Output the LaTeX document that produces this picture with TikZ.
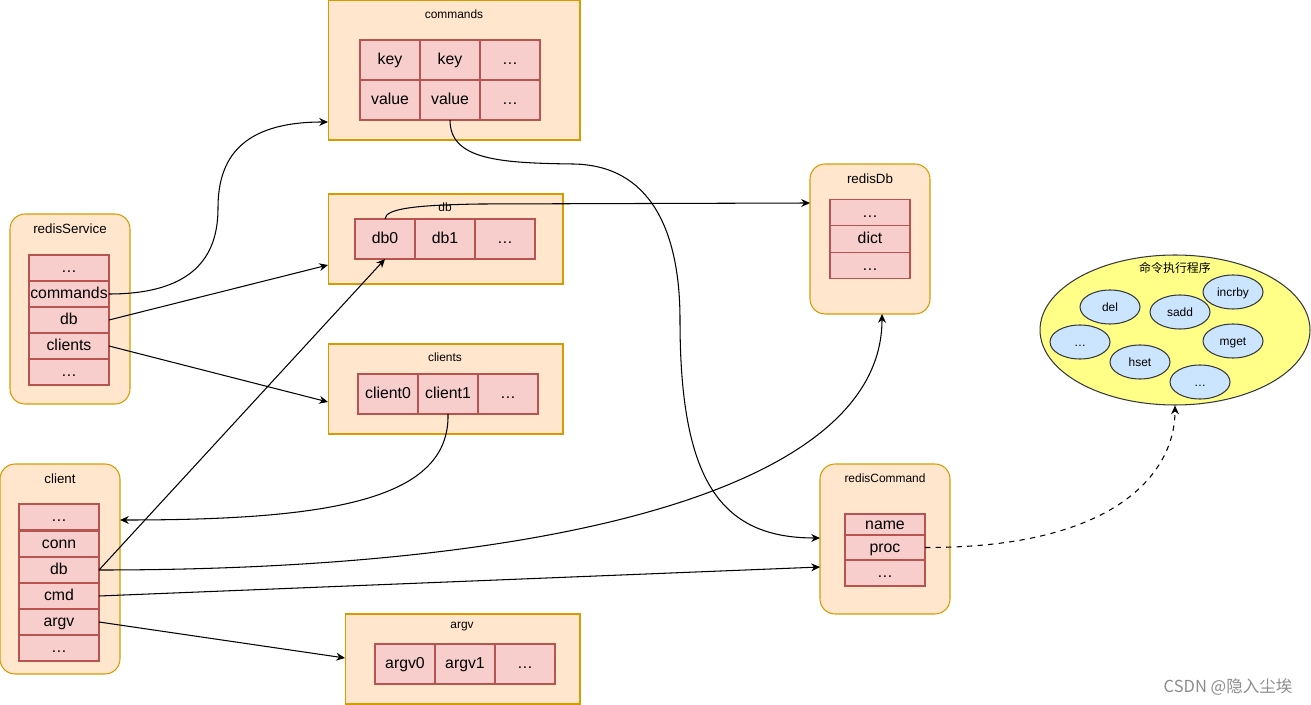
\documentclass[tikz,border=0pt]{standalone}
\usepackage{fontspec}
\setmainfont{Liberation Sans}
\newfontfamily\cjk{Noto Sans CJK SC}
\usetikzlibrary{arrows.meta,shapes.geometric}
\definecolor{boxfill}{HTML}{FFE6CC}
\definecolor{boxline}{HTML}{D79B00}
\definecolor{cellfill}{HTML}{F8CECC}
\definecolor{cellline}{HTML}{B85450}
\definecolor{progfill}{HTML}{FFFF88}
\definecolor{opfill}{HTML}{CCE5FF}
\definecolor{opline}{HTML}{36393D}
\begin{document}
\begin{tikzpicture}[x=0.02cm,y=-0.02cm,line width=0.6pt,
    box/.style={draw=boxline,fill=boxfill,outer sep=0pt},
    rbox/.style={box,rounded corners=0.3cm},
    cell/.style={draw=cellline,fill=cellfill,outer sep=0pt,inner sep=0pt,
                 text height=0.72em,text depth=0.2em,
                 minimum width=1.2cm,minimum height=0.8cm,font=\fontsize{9}{10}\selectfont},
    row/.style={cell,minimum width=1.6cm,minimum height=0.52cm},
    title/.style={font=\fontsize{6.8}{8}\selectfont},
    bigtitle/.style={font=\fontsize{7.6}{9}\selectfont},
    op/.style={ellipse,draw=opline,fill=opfill,inner sep=0pt,
               text height=0.72em,text depth=0.2em,
               minimum width=1.2cm,minimum height=0.68cm,font=\fontsize{6.8}{8}\selectfont},
    arr/.style={-{Stealth[length=5pt,width=4.5pt]}}
  ]
  \useasboundingbox (0,0) rectangle (1311,705);

  % commands
  \node[box,minimum width=5.04cm,minimum height=2.8cm] (commandsbox) at (454,70) {};
  \node[title] (commandstitle) at (454,14) {commands};
  \node[cell] (k1) at (390,60) {key};
  \node[cell] (k2) at (450,60) {key};
  \node[cell] (k3) at (510,60) {…};
  \node[cell] (v1) at (390,100) {value};
  \node[cell] (v2) at (450,100) {value};
  \node[cell] (v3) at (510,100) {…};

  % db
  \node[box,minimum width=4.7cm,minimum height=1.8cm] (dbbox) at (445.5,239) {};
  \node[title] (dbtitle) at (445,207) {db};
  \node[cell] (db0) at (385,239) {db0};
  \node[cell] (db1) at (445,239) {db1};
  \node[cell] (dbx) at (505,239) {…};

  % clients
  \node[box,minimum width=4.7cm,minimum height=1.8cm] (clientsbox) at (445.5,389) {};
  \node[title] (clientstitle) at (445,357) {clients};
  \node[cell] (c0) at (388,394) {client0};
  \node[cell] (c1) at (448,394) {client1};
  \node[cell] (cx) at (508,394) {…};

  % argv
  \node[box,minimum width=4.7cm,minimum height=1.8cm] (argvbox) at (462.5,659) {};
  \node[title] (argvtitle) at (462,627) {argv};
  \node[cell] (a0) at (405,664) {argv0};
  \node[cell] (a1) at (465,664) {argv1};
  \node[cell] (ax) at (525,664) {…};

  % redisService
  \node[rbox,minimum width=2.4cm,minimum height=3.8cm] (service) at (70,309) {};
  \node[bigtitle] (servicetitle) at (70,229) {redisService};
  \node[row] (s1) at (69,268) {…};
  \node[row] (s2) at (69,294) {commands};
  \node[row] (s3) at (69,320) {db};
  \node[row] (s4) at (69,346) {clients};
  \node[row] (s5) at (69,372) {…};

  % client
  \node[rbox,minimum width=2.4cm,minimum height=4.2cm] (client) at (60,569) {};
  \node[bigtitle] (clienttitle) at (60,479) {client};
  \node[row] (cl1) at (59,517) {…};
  \node[row] (cl2) at (59,544) {conn};
  \node[row] (cl3) at (59,570) {db};
  \node[row] (cl4) at (59,596) {cmd};
  \node[row] (cl5) at (59,622) {argv};
  \node[row] (cl6) at (59,648) {…};

  % redisDb
  \node[rbox,minimum width=2.4cm,minimum height=3cm] (rdb) at (870,239) {};
  \node[bigtitle] (rdbtitle) at (870,179) {redisDb};
  \node[row,minimum height=0.53cm] (r1) at (870,212.5) {…};
  \node[row,minimum height=0.53cm] (r2) at (870,239) {dict};
  \node[row,minimum height=0.53cm] (r3) at (870,265.5) {…};

  % redisCommand
  \node[rbox,minimum width=2.6cm,minimum height=3cm] (rcmd) at (885,539) {};
  \node[title] (rcmdtitle) at (885,478) {redisCommand};
  \node[row,minimum height=0.42cm] (name) at (885,524.5) {name};
  \node[row,minimum height=0.5cm] (proc) at (885,547.5) {proc};
  \node[row,minimum height=0.52cm] (more) at (885,573) {…};

  % command procs
  \node[ellipse,draw=opline,fill=progfill,minimum width=5.4cm,minimum height=3cm] (prog) at (1175,330) {};
  \node[title,font=\cjk\fontsize{6.8}{8}\selectfont] (progtitle) at (1175,268) {命令执行程序};
  \node[op] (del) at (1110,307) {del};
  \node[op] (sadd) at (1180,312) {sadd};
  \node[op] (incrby) at (1233,292) {incrby};
  \node[op] (opa) at (1080,342) {…};
  \node[op] (hset) at (1140,362) {hset};
  \node[op] (mget) at (1233,341) {mget};
  \node[op] (opb) at (1200,382) {…};

  \node[text=black!45,font=\cjk\fontsize{9.4}{10}\selectfont] (mark) at (1228,687) {CSDN @隐入尘埃};

  \coordinate (cmdin) at (328,122);
  \coordinate (dbin) at (328,265);
  \coordinate (clientsin) at (328,402);
  \coordinate (argvin) at (345,658);
  \coordinate (clientin) at (120,520);
  \coordinate (rdbin) at (810,203);
  \coordinate (rdbbot) at (882,314);
  \coordinate (rcmdin) at (820,538);
  \coordinate (rcmdin2) at (820,567);

  \path[arr]
    (s3.east) edge (dbin)
    (s4.east) edge (clientsin)
    (cl3.east) edge (db0.south)
    (cl4.east) edge (rcmdin2)
    (cl5.east) edge (argvin);
  \draw[arr] (s2.east) .. controls (200,294) and (218,250) .. (218,208)
    .. controls (218,160) and (240,122) .. (cmdin);
  \draw[arr] (v2.south) .. controls (450,160) and (500,163) .. (573,164)
    .. controls (650,165) and (680,230) .. (680,320)
    .. controls (680,480) and (720,538) .. (rcmdin);
  \draw[arr] (db0.north) .. controls (385,208) and (420,205) .. (480,204) -- (rdbin);
  \draw[arr] (c1.south) .. controls (450,500) and (330,520) .. (clientin);
  \draw[arr] (cl3.east) .. controls (550,570) and (882,490) .. (rdbbot);
  \draw[arr,dashed] (proc.east) .. controls (1120,548) and (1175,470) .. (prog.south);
\end{tikzpicture}
\end{document}
